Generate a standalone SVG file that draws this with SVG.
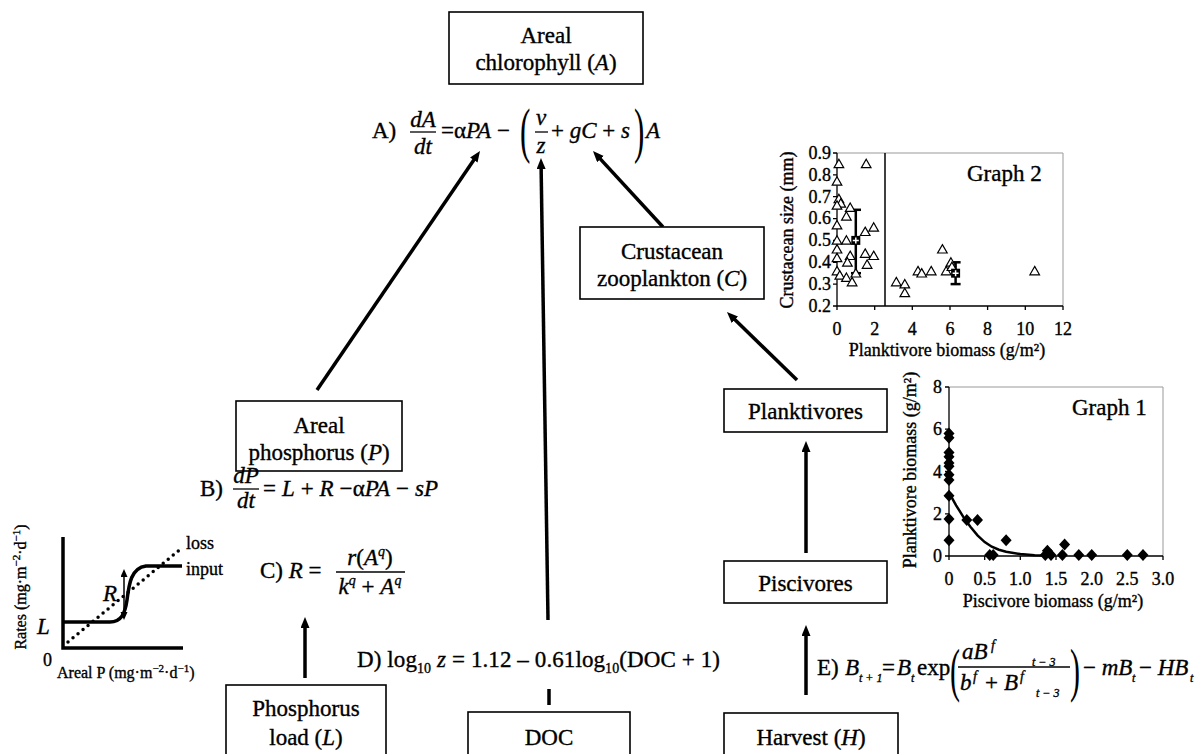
<svg xmlns="http://www.w3.org/2000/svg" width="1199" height="754" viewBox="0 0 1199 754" font-family="'Liberation Serif', 'Times New Roman', serif">
<defs>
<style>
text{font-family:"Liberation Serif","Times New Roman",serif;fill:#000;stroke:#000;stroke-width:0.35}
.m{font-size:23px}
.c{text-anchor:middle}
.r{text-anchor:end}
.i{font-style:italic}
.sm{font-size:18px}
.box{fill:#fff;stroke:#000;stroke-width:1.6}
.conn{stroke:#000;stroke-width:3.5;fill:none;marker-end:url(#ah)}
.bar{stroke:#000;stroke-width:1.3}
.axis{stroke:#000;stroke-width:1.3;fill:none}
.frame{stroke:#999;stroke-width:1;fill:none}
.thick{stroke:#000;stroke-width:3.5;fill:none}
.paren{stroke-width:0}
</style>
<marker id="ah" markerUnits="userSpaceOnUse" markerWidth="12" markerHeight="10" refX="3" refY="4.5" orient="auto"><path d="M0,0 L11,4.5 L0,9 Z" fill="#000"/></marker>
<marker id="ahs" markerUnits="userSpaceOnUse" markerWidth="9" markerHeight="8" refX="6" refY="3.5" orient="auto-start-reverse"><path d="M0,0 L8,3.5 L0,7 Z" fill="#000"/></marker>
<path id="tri" d="M0,-4.6 L4.8,3.8 L-4.8,3.8 Z" fill="#fff" stroke="#000" stroke-width="1.2"/>
<path id="dia" d="M0,-6 L5.5,0 L0,6 L-5.5,0 Z" fill="#000"/>
</defs>
<rect width="1199" height="754" fill="#fff"/>

<!-- connectors -->
<g id="connectors">
<line class="conn" x1="317" y1="390" x2="475.5" y2="157.6"/>
<line class="conn" x1="548" y1="620" x2="541.1" y2="166"/>
<line class="thick" x1="549" y1="689" x2="549" y2="705"/>
<line class="conn" x1="663" y1="227" x2="598.4" y2="156.9"/>
<line class="conn" x1="797" y1="380" x2="732.7" y2="317.6"/>
<line class="conn" x1="806" y1="553" x2="806" y2="449"/>
<line class="conn" x1="806" y1="695" x2="806" y2="633"/>
<line class="conn" x1="305" y1="678" x2="305" y2="625"/>
</g>

<!-- nodes -->
<g id="node-chlorophyll">
<rect class="box" x="449" y="12" width="194" height="72"/>
<text class="m c" x="546" y="43">Areal</text>
<text class="m c" x="546" y="70">chlorophyll (<tspan class="i">A</tspan>)</text>
</g>
<g id="node-crustacean">
<rect class="box" x="580" y="227" width="184" height="72"/>
<text class="m c" x="672" y="259">Crustacean</text>
<text class="m c" x="672" y="286">zooplankton (<tspan class="i">C</tspan>)</text>
</g>
<g id="node-phosphorus">
<rect class="box" x="236" y="401" width="166" height="70"/>
<text class="m c" x="319" y="433">Areal</text>
<text class="m c" x="319" y="460">phosphorus (<tspan class="i">P</tspan>)</text>
</g>
<g id="node-planktivores">
<rect class="box" x="724" y="389" width="163" height="43"/>
<text class="m c" x="805.5" y="419">Planktivores</text>
</g>
<g id="node-piscivores">
<rect class="box" x="724" y="561" width="163" height="42"/>
<text class="m c" x="805.5" y="591">Piscivores</text>
</g>
<g id="node-pload">
<rect class="box" x="226" y="685" width="160" height="80"/>
<text class="m c" x="306" y="716">Phosphorus</text>
<text class="m c" x="306" y="745">load (<tspan class="i">L</tspan>)</text>
</g>
<g id="node-doc">
<rect class="box" x="468" y="712" width="162" height="60"/>
<text class="m c" x="549" y="745">DOC</text>
</g>
<g id="node-harvest">
<rect class="box" x="724" y="713" width="174" height="60"/>
<text class="m c" x="811" y="745">Harvest (<tspan class="i">H</tspan>)</text>
</g>

<!-- Equation A -->
<g id="eq-A">
<text class="m" x="372" y="138">A)</text>
<text class="m c i" x="423" y="127">dA</text>
<line class="bar" x1="410" y1="132" x2="436" y2="132"/>
<text class="m c i" x="423" y="154">dt</text>
<text class="m" x="441" y="138">=α<tspan class="i">PA</tspan> −</text>
<text class="paren" font-size="62" transform="translate(520,151) scale(0.5,1)">(</text>
<text class="m c i" x="541" y="125">v</text>
<line class="bar" x1="535" y1="132" x2="548" y2="132"/>
<text class="m c i" x="541" y="153">z</text>
<text class="m" x="551" y="138">+ <tspan class="i">gC</tspan> + <tspan class="i">s</tspan></text>
<text class="paren" font-size="62" transform="translate(634,151) scale(0.5,1)">)</text>
<text class="m i" x="646" y="138">A</text>
</g>

<!-- Equation B -->
<g id="eq-B">
<text class="m" x="200" y="496">B)</text>
<text class="m c i" x="246" y="483">dP</text>
<line class="bar" x1="233" y1="489" x2="259" y2="489"/>
<text class="m c i" x="246" y="508">dt</text>
<text class="m" x="263" y="496" textLength="175" lengthAdjust="spacing">= <tspan class="i">L</tspan> + <tspan class="i">R</tspan> −α<tspan class="i">PA</tspan> − <tspan class="i">sP</tspan></text>
</g>

<!-- Equation C -->
<g id="eq-C">
<text class="m" x="260" y="578">C) <tspan class="i">R</tspan> =</text>
<text class="m c" x="370" y="565"><tspan class="i">r</tspan>(<tspan class="i">A</tspan><tspan class="i" font-size="14" dy="-9">q</tspan><tspan dy="9">)</tspan></text>
<line class="bar" x1="336" y1="572" x2="405" y2="572"/>
<text class="m c" x="370" y="594"><tspan class="i">k</tspan><tspan class="i" font-size="14" dy="-9">q</tspan><tspan dy="9"> + </tspan><tspan class="i">A</tspan><tspan class="i" font-size="14" dy="-9">q</tspan></text>
</g>

<!-- Equation D -->
<g id="eq-D">
<text class="m" x="357" y="667" textLength="363" lengthAdjust="spacing">D) log<tspan font-size="14" dy="6">10</tspan><tspan dy="-6"> </tspan><tspan class="i">z</tspan> = 1.12 – 0.61log<tspan font-size="14" dy="6">10</tspan><tspan dy="-6">(DOC + 1)</tspan></text>
</g>

<!-- Equation E -->
<g id="eq-E">
<text class="m" x="817" y="675">E)</text>
<text class="m i" x="845" y="675">B</text>
<text class="i" font-size="12" x="859" y="682">t + 1</text>
<text class="m" x="882" y="675">=</text>
<text class="m i" x="897" y="675">B</text>
<text class="i" font-size="12" x="911" y="682">t</text>
<text class="m" x="917" y="675">exp</text>
<text class="paren" font-size="60" transform="translate(950,690) scale(0.5,1)">(</text>
<text class="m i" x="962" y="659">aB</text>
<text class="i" font-size="14" x="991" y="650">f</text>
<text class="i" font-size="12" x="1032" y="666">t − 3</text>
<line class="bar" x1="958" y1="667" x2="1070" y2="667"/>
<text class="m i" x="960" y="690">b</text>
<text class="i" font-size="14" x="973" y="681">f</text>
<text class="m" x="985" y="690">+</text>
<text class="m i" x="1004" y="690">B</text>
<text class="i" font-size="14" x="1020" y="681">f</text>
<text class="i" font-size="12" x="1036" y="697">t − 3</text>
<text class="paren" font-size="60" transform="translate(1070,690) scale(0.5,1)">)</text>
<text class="m" x="1083" y="675">− <tspan class="i">mB</tspan></text>
<text class="i" font-size="12" x="1132" y="682">t</text>
<text class="m" x="1139" y="675">− <tspan class="i">HB</tspan></text>
<text class="i" font-size="12" x="1190" y="682">t</text>
</g>

<!-- Left rates graph -->
<g id="rates-graph">
<polyline class="thick" points="63,537 63,648 183,648"/>
<line x1="68" y1="642" x2="183" y2="547" stroke="#000" stroke-width="3.5" stroke-linecap="round" stroke-dasharray="0 6.5"/>
<path class="thick" d="M63,622 L110,622 C121,622 125,614 127,600 C129,584 131,568 146,566 L182,566"/>
<line x1="124" y1="571" x2="124" y2="618" stroke="#000" stroke-width="1.5" marker-start="url(#ahs)" marker-end="url(#ahs)"/>
<text class="m i" x="103" y="601">R</text>
<text class="m i" x="37" y="634">L</text>
<text class="sm" x="43" y="666">0</text>
<text class="sm" x="186" y="549">loss</text>
<text class="sm" x="186" y="575">input</text>
<text font-size="16" transform="translate(26,587) rotate(-90)" text-anchor="middle">Rates (mg·m<tspan font-size="11" dy="-6">−2</tspan><tspan dy="6">·d</tspan><tspan font-size="11" dy="-6">−1</tspan><tspan dy="6">)</tspan></text>
<text font-size="16" x="57" y="678">Areal P (mg·m<tspan font-size="11" dy="-6">−2</tspan><tspan dy="6">·d</tspan><tspan font-size="11" dy="-6">−1</tspan><tspan dy="6">)</tspan></text>
</g>

<!-- Graph 2 -->
<g id="graph2">
<polyline class="frame" points="837,153 1063,153 1063,306"/>
<polyline class="axis" points="837,153 837,306 1063,306"/>
<path class="axis" d="M833,153h4M833,174.9h4M833,196.7h4M833,218.6h4M833,240.4h4M833,262.3h4M833,284.1h4M833,306h4M837,306v4M874.7,306v4M912.3,306v4M950,306v4M987.6,306v4M1025.3,306v4M1063,306v4"/>
<line x1="885" y1="153" x2="885" y2="306" stroke="#000" stroke-width="1.5"/>
<text class="sm r" x="831" y="159">0.9</text>
<text class="sm r" x="831" y="181">0.8</text>
<text class="sm r" x="831" y="203">0.7</text>
<text class="sm r" x="831" y="224">0.6</text>
<text class="sm r" x="831" y="246">0.5</text>
<text class="sm r" x="831" y="268">0.4</text>
<text class="sm r" x="831" y="290">0.3</text>
<text class="sm r" x="831" y="312">0.2</text>
<text class="sm c" x="837" y="335">0</text>
<text class="sm c" x="874.7" y="335">2</text>
<text class="sm c" x="912.3" y="335">4</text>
<text class="sm c" x="950" y="335">6</text>
<text class="sm c" x="987.6" y="335">8</text>
<text class="sm c" x="1025.3" y="335">10</text>
<text class="sm c" x="1063" y="335">12</text>
<text class="sm c" x="947" y="356">Planktivore biomass (g/m²)</text>
<text class="sm c" transform="translate(793,230) rotate(-90)">Crustacean size (mm)</text>
<text class="m" x="967" y="181">Graph 2</text>
<g stroke="#000" stroke-width="2.5">
<line x1="855.8" y1="209.8" x2="855.8" y2="273.2"/>
<line x1="851" y1="209.8" x2="861" y2="209.8"/>
<line x1="851" y1="273.2" x2="861" y2="273.2"/>
<line x1="955.6" y1="262.3" x2="955.6" y2="284.1"/>
<line x1="950.6" y1="262.3" x2="960.6" y2="262.3"/>
<line x1="950.6" y1="284.1" x2="960.6" y2="284.1"/>
</g>
<use href="#tri" x="838.9" y="163.9"/>
<use href="#tri" x="866.2" y="163.9"/>
<use href="#tri" x="837" y="181.4"/>
<use href="#tri" x="838.9" y="198.9"/>
<use href="#tri" x="840.8" y="203.3"/>
<use href="#tri" x="837" y="205.4"/>
<use href="#tri" x="850.2" y="207.6"/>
<use href="#tri" x="846.4" y="216.4"/>
<use href="#tri" x="837" y="225.1"/>
<use href="#tri" x="865.2" y="231.7"/>
<use href="#tri" x="873.7" y="227.3"/>
<use href="#tri" x="837" y="240.4"/>
<use href="#tri" x="846.4" y="240.4"/>
<use href="#tri" x="837" y="249.2"/>
<use href="#tri" x="850.2" y="255.7"/>
<use href="#tri" x="837" y="257.9"/>
<use href="#tri" x="847.4" y="262.3"/>
<use href="#tri" x="865.2" y="253.5"/>
<use href="#tri" x="873.7" y="255.7"/>
<use href="#tri" x="867.1" y="264.5"/>
<use href="#tri" x="837" y="271"/>
<use href="#tri" x="839.8" y="275.4"/>
<use href="#tri" x="846.4" y="277.6"/>
<use href="#tri" x="855.8" y="273.2"/>
<use href="#tri" x="852.1" y="282"/>
<use href="#tri" x="896.3" y="282"/>
<use href="#tri" x="904.8" y="284.1"/>
<use href="#tri" x="904.8" y="292.9"/>
<use href="#tri" x="918" y="271"/>
<use href="#tri" x="921.7" y="273.2"/>
<use href="#tri" x="931.2" y="271"/>
<use href="#tri" x="942.4" y="249.2"/>
<use href="#tri" x="946.2" y="271"/>
<use href="#tri" x="950.9" y="262.3"/>
<use href="#tri" x="951.9" y="266.7"/>
<use href="#tri" x="1034.7" y="271"/>
<rect x="851.3" y="235.9" width="9" height="9" fill="#000"/>
<path d="M852.8,240.4h6M855.8,237.4v6" stroke="#fff" stroke-width="1.5"/>
<rect x="951.1" y="268.7" width="9" height="9" fill="#000"/>
<path d="M952.6,273.2h6M955.6,270.2v6" stroke="#fff" stroke-width="1.5"/>
</g>

<!-- Graph 1 -->
<g id="graph1">
<polyline class="frame" points="949,387 1163,387 1163,556"/>
<polyline class="axis" points="949,387 949,556 1163,556"/>
<path class="axis" d="M945,387h4M945,429.2h4M945,471.5h4M945,513.8h4M945,556h4M949,556v4M984.7,556v4M1020.3,556v4M1056,556v4M1091.7,556v4M1127.3,556v4M1163,556v4"/>
<text class="sm r" x="942" y="393">8</text>
<text class="sm r" x="942" y="435">6</text>
<text class="sm r" x="942" y="478">4</text>
<text class="sm r" x="942" y="520">2</text>
<text class="sm r" x="942" y="562">0</text>
<text class="sm c" x="949" y="585">0</text>
<text class="sm c" x="984.7" y="585">0.5</text>
<text class="sm c" x="1020.3" y="585">1.0</text>
<text class="sm c" x="1056" y="585">1.5</text>
<text class="sm c" x="1091.7" y="585">2.0</text>
<text class="sm c" x="1127.3" y="585">2.5</text>
<text class="sm c" x="1163" y="585">3.0</text>
<text class="sm c" x="1053" y="607">Piscivore biomass (g/m²)</text>
<text class="sm c" transform="translate(916,470) rotate(-90)">Planktivore biomass (g/m²)</text>
<text class="m" x="1072" y="415">Graph 1</text>
<polyline points="949,492.6 956.1,505.3 963.3,516.9 970.4,526.8 977.5,535.3 984.7,542.1 991.8,546.7 998.9,549.7 1006.1,551.8 1020.3,554.1 1034.6,555.2 1048.9,555.6" fill="none" stroke="#000" stroke-width="2.5"/>
<use href="#dia" x="949" y="433.5"/>
<use href="#dia" x="949" y="437.7"/>
<use href="#dia" x="949" y="452.5"/>
<use href="#dia" x="949" y="456.7"/>
<use href="#dia" x="949" y="463"/>
<use href="#dia" x="949" y="466.2"/>
<use href="#dia" x="949" y="474.7"/>
<use href="#dia" x="949" y="480"/>
<use href="#dia" x="949" y="495.8"/>
<use href="#dia" x="949" y="519"/>
<use href="#dia" x="949" y="540.2"/>
<use href="#dia" x="966.8" y="520.1"/>
<use href="#dia" x="977.5" y="520.1"/>
<use href="#dia" x="989.7" y="555"/>
<use href="#dia" x="993.2" y="555"/>
<use href="#dia" x="1006.1" y="540.2"/>
<use href="#dia" x="1045.3" y="555"/>
<use href="#dia" x="1047.4" y="550.7"/>
<use href="#dia" x="1051" y="555"/>
<use href="#dia" x="1062.4" y="555"/>
<use href="#dia" x="1064.6" y="544.4"/>
<use href="#dia" x="1078.8" y="555"/>
<use href="#dia" x="1091.7" y="555"/>
<use href="#dia" x="1127.3" y="555"/>
<use href="#dia" x="1143" y="555"/>
</g>
</svg>
